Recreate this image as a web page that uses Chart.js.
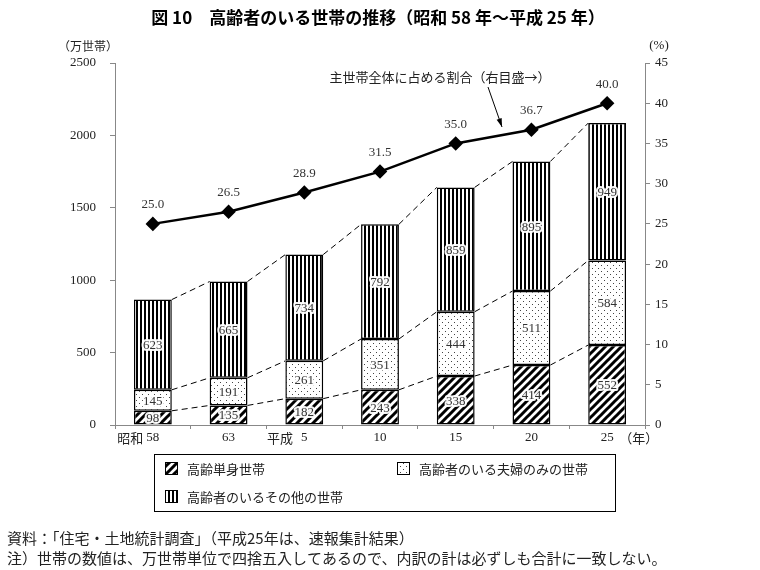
<!DOCTYPE html>
<html>
<head>
<meta charset="utf-8">
<script src="https://cdn.jsdelivr.net/npm/chart.js@4"></script>
<style>
  html, body { margin: 0; padding: 0; background: #fff; }
  #wrap { width: 760px; height: 570px; position: relative; }
</style>
</head>
<body>
<div id="wrap"><canvas id="chart" width="760" height="570"></canvas></div>
<script>
// data
const years = ['昭和58', '63', '平成5', '10', '15', '20', '25'];
const singleHouseholds = [98, 135, 182, 243, 338, 414, 552];
const coupleHouseholds = [145, 191, 261, 351, 444, 511, 584];
const otherHouseholds = [623, 665, 734, 792, 859, 895, 949];
const shareOfAll = [25.0, 26.5, 28.9, 31.5, 35.0, 36.7, 40.0];
const leftTicks = [0, 500, 1000, 1500, 2000, 2500];
const rightTicks = [0, 5, 10, 15, 20, 25, 30, 35, 40, 45];

const JP = "'Noto Sans CJK JP', 'Noto Sans', sans-serif";
const NUM = "'Liberation Serif', 'DejaVu Serif', serif";

// hatch patterns
function makePattern(w, h, draw) {
  const c = document.createElement('canvas');
  c.width = w; c.height = h;
  const g = c.getContext('2d');
  g.fillStyle = '#fff';
  g.fillRect(0, 0, w, h);
  draw(g);
  return g.createPattern(c, 'repeat');
}
const diagPattern = makePattern(8, 8, g => {
  g.strokeStyle = '#000';
  g.lineWidth = 3;
  g.beginPath();
  g.moveTo(-1, 9); g.lineTo(9, -1);
  g.moveTo(-5, 5); g.lineTo(5, -5);
  g.moveTo(3, 13); g.lineTo(13, 3);
  g.stroke();
});
const dotPattern = makePattern(6, 6, g => {
  g.fillStyle = '#444';
  g.fillRect(1, 1, 1, 1);
  g.fillRect(4, 4, 1, 1);
});
const stripePattern = makePattern(4, 4, g => {
  g.fillStyle = '#000';
  g.fillRect(0, 0, 2, 4);
});

const seriesNames = ['高齢単身世帯', '高齢者のいる夫婦のみの世帯', '高齢者のいるその他の世帯'];
const seriesPatterns = [diagPattern, dotPattern, stripePattern];

function haloText(ctx, text, x, y) {
  ctx.save();
  ctx.lineJoin = 'round';
  ctx.strokeStyle = 'rgba(255,255,255,0.95)';
  ctx.lineWidth = 4;
  ctx.strokeText(text, x, y);
  ctx.fillStyle = '#333';
  ctx.fillText(text, x, y);
  ctx.restore();
}

const extras = {
  id: 'extras',
  afterDatasetsDraw(chart) {
    const ctx = chart.ctx;
    const metas = [0, 1, 2].map(i => chart.getDatasetMeta(i));
    // dashed connectors between segment tops
    ctx.save();
    ctx.strokeStyle = '#000';
    ctx.lineWidth = 1;
    ctx.setLineDash([6, 4]);
    metas.forEach(m => {
      for (let i = 0; i < m.data.length - 1; i++) {
        const a = m.data[i], b = m.data[i + 1];
        ctx.beginPath();
        ctx.moveTo(a.x + a.width / 2, a.y);
        ctx.lineTo(b.x - b.width / 2, b.y);
        ctx.stroke();
      }
    });
    ctx.restore();

    // segment values
    ctx.save();
    ctx.font = '13px ' + NUM;
    ctx.textAlign = 'center';
    ctx.textBaseline = 'middle';
    metas.forEach((m, d) => {
      const vals = chart.data.datasets[d].data;
      m.data.forEach((el, i) => {
        haloText(ctx, String(vals[i]), el.x, (el.y + el.base) / 2 + 1);
      });
    });
    ctx.restore();
  },
  afterDraw(chart) {
    const ctx = chart.ctx;
    const ca = chart.chartArea;
    const x = chart.scales.x;

    // title
    ctx.save();
    ctx.fillStyle = '#000';
    ctx.font = 'bold 17px ' + JP;
    ctx.textAlign = 'center';
    ctx.textBaseline = 'middle';
    ctx.fillText('図 10　高齢者のいる世帯の推移（昭和 58 年～平成 25 年）', 378, 18);

    // axis titles
    ctx.font = '12px ' + JP;
    ctx.fillStyle = '#222';
    ctx.fillText('（万世帯）', 88, 46);
    ctx.font = '13px ' + NUM;
    ctx.fillText('(%)', 659, 46);

    // x labels: number centred under bar, era prefix before it
    ctx.textBaseline = 'middle';
    years.forEach((lab, i) => {
      const px = x.getPixelForValue(i);
      const m = lab.match(/^(\D*)(\d+)$/);
      const num = m[2], era = m[1];
      ctx.font = '13px ' + NUM;
      ctx.textAlign = 'center';
      ctx.fillText(num, px, ca.bottom + 13);
      if (era) {
        const nw = ctx.measureText(num).width;
        ctx.font = '13px ' + JP;
        ctx.textAlign = 'right';
        ctx.fillText(era, px - nw / 2 - (num.length === 1 ? 8 : 3), ca.bottom + 13);
      }
    });
    ctx.font = '13px ' + JP;
    ctx.textAlign = 'left';
    ctx.fillText('（年）', x.getPixelForValue(years.length - 1) + 12, ca.bottom + 13);

    // line value labels
    const lm = chart.getDatasetMeta(3);
    ctx.font = '13px ' + NUM;
    ctx.textAlign = 'center';
    ctx.fillStyle = '#333';
    lm.data.forEach((pt, i) => {
      ctx.fillText(shareOfAll[i].toFixed(1), pt.x, pt.y - 19);
    });

    // annotation with arrow
    ctx.font = '13px ' + JP;
    ctx.fillStyle = '#222';
    ctx.fillText('主世帯全体に占める割合（右目盛→）', 440, 77);
    ctx.strokeStyle = '#000';
    ctx.lineWidth = 1;
    ctx.beginPath();
    ctx.moveTo(488, 87);
    ctx.lineTo(502, 127);
    ctx.stroke();
    const ang = Math.atan2(127 - 87, 502 - 488);
    ctx.beginPath();
    ctx.moveTo(502, 127);
    ctx.lineTo(502 - 9 * Math.cos(ang - 0.3), 127 - 9 * Math.sin(ang - 0.3));
    ctx.lineTo(502 - 9 * Math.cos(ang + 0.3), 127 - 9 * Math.sin(ang + 0.3));
    ctx.closePath();
    ctx.fillStyle = '#000';
    ctx.fill();

    // legend box
    ctx.lineWidth = 1;
    ctx.strokeStyle = '#000';
    ctx.strokeRect(154.5, 454.5, 461, 57);
    const items = [[165, 462], [397, 462], [165, 490]];
    items.forEach(([lx, ly], i) => {
      ctx.fillStyle = seriesPatterns[i];
      ctx.fillRect(lx, ly, 13, 13);
      ctx.strokeRect(lx + 0.5, ly + 0.5, 12, 12);
      ctx.fillStyle = '#222';
      ctx.font = '13px ' + JP;
      ctx.textAlign = 'left';
      ctx.textBaseline = 'middle';
      ctx.fillText(seriesNames[i], lx + 22, ly + 7);
    });

    // notes
    ctx.font = '15px ' + JP;
    ctx.fillStyle = '#222';
    ctx.fillText('資料：「住宅・土地統計調査」（平成25年は、速報集計結果）', 7, 538);
    ctx.fillText('注）世帯の数値は、万世帯単位で四捨五入してあるので、内訳の計は必ずしも合計に一致しない。', 7, 558);
    ctx.restore();
  }
};

const barBase = {
  type: 'bar',
  yAxisID: 'y',
  borderColor: '#000',
  borderWidth: 1.5,
  borderSkipped: false,
  categoryPercentage: 1.0,
  barPercentage: 0.5,
  order: 2
};

new Chart(document.getElementById('chart'), {
  data: {
    labels: years,
    datasets: [
      Object.assign({}, barBase, { label: seriesNames[0], data: singleHouseholds, backgroundColor: diagPattern }),
      Object.assign({}, barBase, { label: seriesNames[1], data: coupleHouseholds, backgroundColor: dotPattern }),
      Object.assign({}, barBase, { label: seriesNames[2], data: otherHouseholds, backgroundColor: stripePattern }),
      {
        type: 'line',
        label: '主世帯全体に占める割合',
        data: shareOfAll,
        yAxisID: 'y1',
        borderColor: '#000',
        borderWidth: 2.5,
        pointStyle: 'rectRot',
        pointRadius: 5.5,
        pointBackgroundColor: '#000',
        pointBorderColor: '#000',
        tension: 0,
        order: 1
      }
    ]
  },
  options: {
    responsive: false,
    animation: false,
    layout: { padding: { top: 63, bottom: 125, left: 0, right: 0 } },
    plugins: { legend: { display: false }, tooltip: { enabled: false }, title: { display: false } },
    scales: {
      x: {
        stacked: true,
        offset: true,
        grid: { offset: true, drawOnChartArea: false, drawTicks: true, tickLength: 4, color: '#888' },
        border: { color: '#888', width: 1 },
        ticks: { display: false },
        afterFit: s => { s.height = 20; }
      },
      y: {
        stacked: true,
        min: 0, max: 2500,
        afterBuildTicks: s => { s.ticks = leftTicks.map(v => ({ value: v })); },
        grid: { drawOnChartArea: false, tickLength: 5, color: '#888' },
        border: { color: '#888', width: 1 },
        ticks: { font: { family: NUM, size: 13 }, color: '#222', padding: 14, callback: v => String(v) },
        afterFit: s => { s.width = 115; }
      },
      y1: {
        position: 'right',
        min: 0, max: 45,
        afterBuildTicks: s => { s.ticks = rightTicks.map(v => ({ value: v })); },
        grid: { drawOnChartArea: false, tickLength: 5, color: '#888' },
        border: { color: '#888', width: 1 },
        ticks: { font: { family: NUM, size: 13 }, color: '#222', padding: 5, callback: v => String(v) },
        afterFit: s => { s.width = 115; }
      }
    }
  },
  plugins: [extras]
});
</script>
</body>
</html>
